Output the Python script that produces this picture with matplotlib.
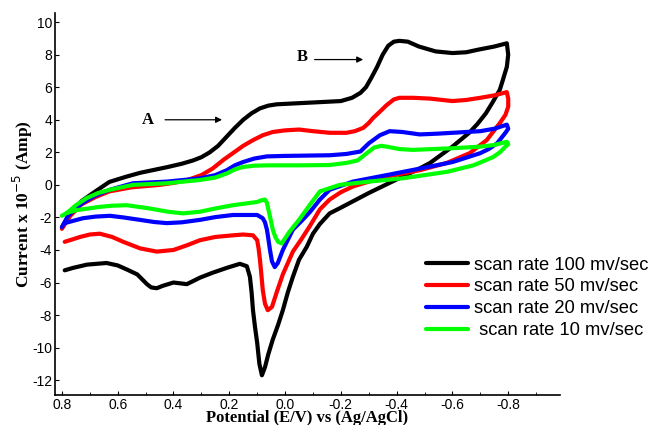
import matplotlib
matplotlib.use("Agg")
import matplotlib.pyplot as plt
from matplotlib.ticker import MultipleLocator

plt.rcParams["axes.unicode_minus"] = False

# cyclic voltammograms at four scan rates (current in units of 1e-5 A)
v100 = [0.80, 0.77, 0.73, 0.68, 0.63, 0.57, 0.52, 0.47, 0.42, 0.37, 0.33, 0.30, 0.27, 0.24, 0.21, 0.18, 0.15, 0.12, 0.09, 0.06, 0.03,
        -0.05, -0.12, -0.20, -0.24, -0.27, -0.29, -0.31, -0.33, -0.35, -0.37, -0.39, -0.41, -0.44, -0.48, -0.54, -0.60, -0.65, -0.69, -0.75, -0.795,
        -0.80, -0.795, -0.78, -0.77, -0.745, -0.72, -0.69, -0.66, -0.60, -0.52, -0.47, -0.42, -0.36, -0.30, -0.25, -0.20, -0.16, -0.125, -0.10,
        -0.078, -0.05, -0.028, -0.01, 0.008, 0.025, 0.044, 0.06, 0.072, 0.083, 0.092, 0.10, 0.108, 0.115, 0.12, 0.126, 0.137, 0.162, 0.209,
        0.26, 0.305, 0.352, 0.40, 0.438, 0.46, 0.48, 0.495, 0.53, 0.567, 0.60, 0.64, 0.71, 0.76, 0.79]
i100 = [-2.6, -1.8, -1.0, -0.4, 0.18, 0.5, 0.74, 0.92, 1.1, 1.3, 1.5, 1.7, 2.0, 2.4, 2.95, 3.5, 4.0, 4.4, 4.7, 4.87, 4.95,
        5.02, 5.08, 5.15, 5.35, 5.65, 6.0, 6.6, 7.25, 8.0, 8.55, 8.8, 8.85, 8.8, 8.5, 8.2, 8.1, 8.15, 8.3, 8.5, 8.7,
        8.0, 7.25, 6.4, 5.85, 5.1, 4.4, 3.75, 3.2, 2.35, 1.35, 0.9, 0.5, 0.0, -0.5, -0.95, -1.4, -1.75, -2.4, -3.0,
        -3.8, -4.6, -5.65, -6.6, -7.7, -8.6, -9.5, -10.4, -11.2, -11.7, -11.0, -9.7, -8.7, -7.7, -6.6, -5.65, -5.0, -4.85, -5.1,
        -5.4, -5.7, -6.1, -6.0, -6.2, -6.35, -6.3, -6.1, -5.5, -5.2, -4.95, -4.8, -4.9, -5.1, -5.25]

v50 = [0.80, 0.77, 0.73, 0.68, 0.63, 0.55, 0.45, 0.40, 0.35, 0.30, 0.26, 0.22, 0.187, 0.15, 0.115, 0.08, 0.044, 0.0, -0.05, -0.10,
       -0.16, -0.22, -0.25, -0.28, -0.30, -0.315, -0.34, -0.364, -0.39, -0.41, -0.46, -0.52, -0.60, -0.65, -0.70, -0.75, -0.795,
       -0.80, -0.80, -0.79, -0.77, -0.723, -0.662, -0.58, -0.483, -0.364, -0.30, -0.243, -0.20, -0.16, -0.125, -0.09, -0.06, -0.028,
       0.008, 0.03, 0.047, 0.062, 0.072, 0.08, 0.085, 0.09, 0.095, 0.10, 0.115, 0.15, 0.187, 0.25, 0.305, 0.35, 0.40, 0.46, 0.52,
       0.58, 0.62, 0.664, 0.70, 0.735, 0.79]
i50 = [-2.7, -1.9, -1.2, -0.75, -0.4, -0.15, 0.0, 0.12, 0.3, 0.6, 1.0, 1.55, 1.95, 2.4, 2.75, 3.05, 3.25, 3.35, 3.4, 3.3,
       3.2, 3.2, 3.3, 3.5, 3.8, 4.1, 4.5, 4.9, 5.25, 5.35, 5.35, 5.3, 5.15, 5.22, 5.35, 5.5, 5.7,
       5.3, 4.8, 4.3, 3.8, 2.75, 1.95, 1.35, 0.9, 0.5, 0.2, -0.1, -0.45, -0.9, -1.5, -2.5, -3.3, -4.1,
       -5.5, -6.6, -7.5, -7.7, -7.3, -6.45, -5.5, -4.6, -3.9, -3.4, -3.1, -3.05, -3.1, -3.2, -3.4, -3.7, -4.0, -4.1, -3.9,
       -3.5, -3.2, -3.0, -3.05, -3.2, -3.5]

v20 = [0.80, 0.78, 0.755, 0.725, 0.68, 0.628, 0.545, 0.424, 0.305, 0.25, 0.209, 0.18, 0.151, 0.11, 0.065, 0.0, -0.08, -0.16,
       -0.22, -0.27, -0.30, -0.34, -0.375, -0.42, -0.483, -0.55, -0.60, -0.70, -0.75, -0.795,
       -0.80, -0.79, -0.76, -0.73, -0.70, -0.60, -0.483, -0.364, -0.243, -0.16, -0.125, -0.09, -0.06, -0.028, 0.008, 0.026,
       0.037, 0.047, 0.054, 0.06, 0.065, 0.072, 0.08, 0.10, 0.187, 0.25, 0.305, 0.37, 0.424, 0.47, 0.52, 0.58, 0.628, 0.68,
       0.725, 0.79]
i20 = [-2.6, -1.95, -1.5, -1.1, -0.65, -0.3, 0.1, 0.2, 0.4, 0.6, 0.9, 1.2, 1.4, 1.62, 1.75, 1.78, 1.8, 1.82,
       1.9, 2.05, 2.55, 3.05, 3.3, 3.25, 3.1, 3.15, 3.2, 3.3, 3.45, 3.7,
       3.45, 3.2, 2.55, 2.2, 1.95, 1.4, 1.0, 0.6, 0.2, -0.3, -0.9, -1.65, -2.2, -2.75, -4.0, -4.8,
       -5.05, -4.7, -4.0, -3.3, -2.75, -2.3, -2.05, -1.85, -1.85, -1.98, -2.15, -2.3, -2.35, -2.28, -2.15, -2.0, -1.9, -1.95,
       -2.05, -2.35]

v10 = [0.80, 0.78, 0.75, 0.71, 0.67, 0.628, 0.545, 0.424, 0.305, 0.25, 0.209, 0.18, 0.151, 0.11, 0.065, -0.05, -0.16,
       -0.22, -0.26, -0.293, -0.32, -0.345, -0.364, -0.41, -0.458, -0.53, -0.60, -0.70, -0.75, -0.795,
       -0.80, -0.79, -0.77, -0.745, -0.675, -0.58, -0.42, -0.30, -0.196, -0.125, -0.09, -0.05, -0.015, 0.012, 0.025, 0.035,
       0.044, 0.054, 0.06, 0.065, 0.072, 0.085, 0.10, 0.187, 0.25, 0.305, 0.366, 0.42, 0.485, 0.567, 0.62, 0.664, 0.746, 0.78]
i10 = [-1.9, -1.7, -1.25, -0.8, -0.5, -0.3, 0.0, 0.1, 0.3, 0.45, 0.7, 0.95, 1.1, 1.18, 1.2, 1.2, 1.22,
       1.35, 1.5, 1.95, 2.3, 2.4, 2.35, 2.2, 2.15, 2.2, 2.25, 2.35, 2.45, 2.65,
       2.5, 2.35, 2.0, 1.7, 1.2, 0.8, 0.4, 0.2, 0.0, -0.4, -1.2, -2.15, -2.9, -3.6, -3.5, -3.2,
       -2.75, -1.95, -1.5, -1.1, -0.9, -0.95, -1.05, -1.25, -1.45, -1.65, -1.75, -1.65, -1.45, -1.25, -1.28, -1.35, -1.55, -1.7]

labels = ["scan rate 100 mv/sec", "scan rate 50 mv/sec", "scan rate 20 mv/sec", " scan rate 10 mv/sec"]
colors = ["black", "red", "blue", "#00ff00"]

fig = plt.figure(figsize=(6.54, 4.25), dpi=100)
ax = fig.add_axes([0.084, 0.071, 0.772, 0.898])

for v, i, lab, c in zip([v100, v50, v20, v10], [i100, i50, i20, i10], labels, colors):
    ax.plot(v, i, color=c, lw=3.0, label=lab, solid_joinstyle="round", solid_capstyle="round")

ax.set_xlim(0.825, -0.985)
ax.set_ylim(-12.9, 10.55)
ax.xaxis.set_minor_locator(MultipleLocator(0.1))
ax.yaxis.set_major_locator(MultipleLocator(2))
ax.set_xticks([0.8, 0.6, 0.4, 0.2, 0.0, -0.2, -0.4, -0.6, -0.8])
ax.set_xticklabels(["0.8", "0.6", "0.4", "0.2", "0.0", "-0.2", "-0.4", "-0.6", "-0.8"])
ax.tick_params(direction="in", length=3, width=0.8, labelsize=10, pad=2)
ax.tick_params(which="minor", direction="in", length=2, width=0.6)
for lbl in ax.get_xticklabels() + ax.get_yticklabels():
    lbl.set_family("Liberation Sans")

ax.spines["top"].set_visible(False)
ax.spines["right"].set_visible(False)
ax.spines["left"].set_linewidth(1.2)
ax.spines["bottom"].set_linewidth(1.2)

ax.set_xlabel("Potential (E/V) vs (Ag/AgCl)", family="Liberation Serif", weight="bold", fontsize=12, labelpad=-1)
ax.set_ylabel(r"Current x 10$^{-5}$ (Amp)", family="Liberation Serif", weight="bold", fontsize=12.5, labelpad=-2)

# peak markers
ax.annotate("", xy=(0.216, 4.0), xytext=(0.44, 4.0),
            arrowprops=dict(arrowstyle="-|>", color="black", lw=0.9, mutation_scale=9))
ax.text(0.492, 4.0, "A", family="Liberation Serif", weight="bold", fontsize=12, ha="center", va="center")
ax.annotate("", xy=(-0.29, 7.7), xytext=(-0.096, 7.7),
            arrowprops=dict(arrowstyle="-|>", color="black", lw=0.9, mutation_scale=9))
ax.text(-0.06, 7.87, "B", family="Liberation Serif", weight="bold", fontsize=12, ha="center", va="center")

leg = ax.legend(loc="upper left", bbox_to_anchor=(0.626, 0.435), bbox_transform=fig.transFigure,
                frameon=False, handlelength=2.3, handletextpad=0.33, labelspacing=0.26,
                prop={"family": "Liberation Sans", "size": 13.2})
for h in leg.get_lines():
    h.set_linewidth(3)

fig.savefig("out.png", dpi=100)
